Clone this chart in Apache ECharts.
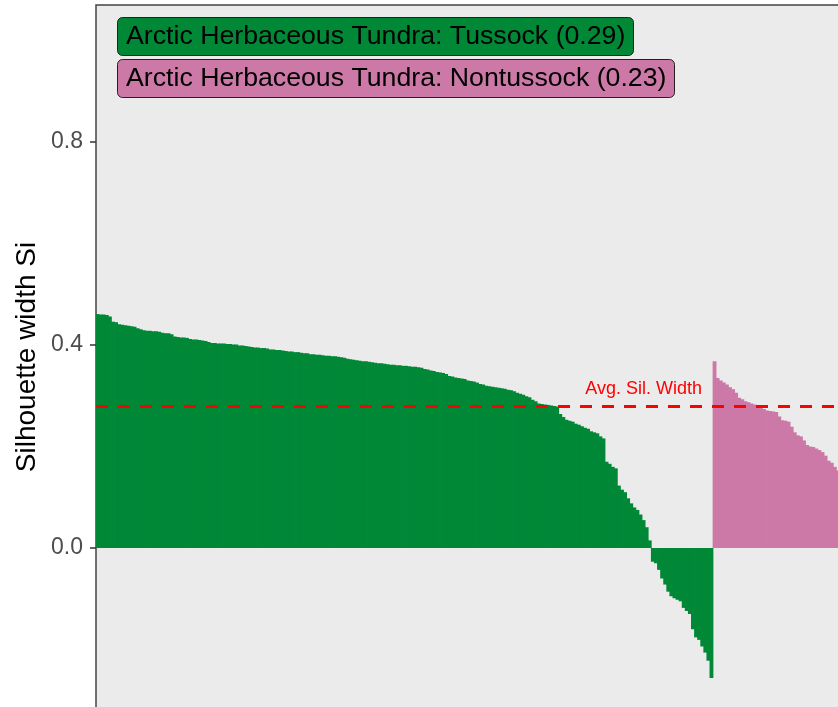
<!DOCTYPE html>
<html>
<head>
<meta charset="utf-8">
<script src="https://cdn.jsdelivr.net/npm/echarts@6/dist/echarts.min.js"></script>
<style>
html,body{margin:0;padding:0;background:#fff;}
#main{width:838px;height:707px;}
</style>
</head>
<body>
<div id="main"></div>
<script>
// Silhouette widths, cluster 1 (Tussock), sorted descending
const tussock = [
0.461,0.460,0.460,0.459,0.456,0.446,0.445,
0.441,0.440,0.439,0.438,0.437,0.436,
0.433,0.431,
0.429,0.428,0.428,0.427,0.427,0.426,
0.424,0.423,0.423,0.421,
0.417,0.416,0.415,0.415,0.414,
0.412,0.411,0.411,0.410,
0.409,0.408,0.406,
0.404,0.404,0.403,0.403,0.403,0.402,0.402,0.401,0.401,
0.399,0.399,0.398,0.397,
0.396,0.395,0.395,0.394,0.394,0.393,
0.391,0.391,0.390,0.390,0.389,
0.388,0.387,0.387,0.386,0.386,
0.385,0.384,0.384,
0.382,0.382,0.381,0.381,0.380,
0.379,0.379,0.378,0.378,
0.377,0.376,0.375,
0.373,0.372,0.371,0.370,
0.369,0.368,0.368,0.367,0.366,
0.365,0.364,0.364,0.363,0.362,
0.361,0.361,0.360,0.360,
0.359,0.359,0.358,
0.357,0.357,0.356,0.355,
0.353,0.352,
0.350,0.349,0.347,
0.346,0.345,0.343,
0.339,0.338,0.336,
0.335,0.334,0.333,
0.330,0.329,0.328,0.326,
0.323,0.322,0.320,
0.319,0.318,0.317,
0.316,0.315,0.314,
0.312,0.311,0.309,
0.306,0.304,0.302,
0.299,0.297,
0.292,0.289,
0.285,0.284,
0.283,0.282,0.281,0.280,0.279,
0.264,0.258,
0.253,0.251,0.249,
0.245,0.243,0.240,0.237,0.235,
0.230,0.228,0.226,
0.220,0.216,
0.170,0.166,
0.160,0.157,
0.123,
0.115,0.110,
0.098,0.088,
0.080,0.075,0.066,
0.055,0.041,
0.015,
-0.027,-0.030,
-0.043,
-0.060,-0.072,
-0.086,
-0.095,-0.099,
-0.102,-0.105,
-0.118,-0.124,
-0.130,
-0.160,
-0.176,-0.181,
-0.194,
-0.206,
-0.222,
-0.256
];
// Silhouette widths, cluster 2 (Nontussock), visible part, sorted descending
const nontussock = [
0.368,0.335,0.330,0.326,0.322,0.317,0.313,0.306,0.296,0.293,
0.289,0.287,0.285,0.283,0.281,0.278,0.274,0.271,0.270,0.269,
0.268,0.259,0.252,0.251,0.249,0.239,0.228,0.222,0.220,0.212,
0.203,0.200,0.199,0.196,0.193,0.189,0.182,0.172,0.168,0.160,
0.153
];
const clusterNames = ['Arctic Herbaceous Tundra: Tussock (0.29)', 'Arctic Herbaceous Tundra: Nontussock (0.23)'];
const avgSilWidth = 0.282;
const yTicks = [0, 0.4, 0.8];

const total = tussock.length + nontussock.length;
const categories = [];
for (let i = 0; i < total; i++) categories.push(String(i + 1));
const greenData = tussock.concat(new Array(nontussock.length).fill(null));
const pinkData = new Array(tussock.length).fill(null).concat(nontussock);

const GREEN = '#008837', PINK = '#CC79A7';
const yMin = -0.4, yMax = 1.07, ppu = 507.5;
const barPx = 617 / tussock.length;

const chart = echarts.init(document.getElementById('main'));
const font = '"Liberation Sans", Arial, sans-serif';

chart.setOption({
  animation: false,
  backgroundColor: '#ffffff',
  grid: {
    left: 96, top: 5,
    width: barPx * total,
    height: (yMax - yMin) * ppu,
    outerBoundsMode: 'none',
    containLabel: false,
    show: true,
    backgroundColor: '#EBEBEB',
    borderColor: '#444444',
    borderWidth: 1.5
  },
  title: [
    {
      text: clusterNames[0], left: 117, top: 17,
      backgroundColor: GREEN, borderColor: '#222', borderWidth: 1, borderRadius: 5,
      padding: [6, 8, 5, 9],
      textStyle: {fontSize: 26.7, fontWeight: 'normal', color: '#000', fontFamily: font, lineHeight: 28}
    },
    {
      text: clusterNames[1], left: 117, top: 59,
      backgroundColor: PINK, borderColor: '#222', borderWidth: 1, borderRadius: 5,
      padding: [6, 8, 5, 9],
      textStyle: {fontSize: 26.7, fontWeight: 'normal', color: '#000', fontFamily: font, lineHeight: 28}
    }
  ],
  xAxis: {
    type: 'category', data: categories, show: false,
    boundaryGap: true
  },
  yAxis: {
    type: 'value', min: yMin, max: yMax, interval: 0.4,
    axisLine: {show: false},
    splitLine: {show: false},
    axisTick: {show: true, length: 6, customValues: yTicks, lineStyle: {color: '#333', width: 1.5}},
    axisLabel: {
      customValues: yTicks, margin: 13, color: '#4D4D4D', fontSize: 23, fontFamily: font,
      formatter: v => v.toFixed(1)
    }
  },
  series: [
    {
      name: clusterNames[0], type: 'bar', data: greenData,
      barWidth: '125%', barGap: '-100%', barCategoryGap: '0%',
      itemStyle: {color: GREEN},
      markLine: {
        silent: true, symbol: ['none', 'none'], z: 10,
        label: {show: false},
        lineStyle: {color: '#FF0000', width: 3, type: [12, 10]},
        data: [{yAxis: avgSilWidth}]
      }
    },
    {
      name: clusterNames[1], type: 'bar', data: pinkData,
      barWidth: '125%', barGap: '-100%', barCategoryGap: '0%',
      itemStyle: {color: PINK}
    }
  ]
});

const yAvgPx = chart.convertToPixel({yAxisIndex: 0}, avgSilWidth);
chart.setOption({
  graphic: [
    {
      type: 'text', id: 'ytitle', x: 27, y: 357, rotation: Math.PI / 2,
      style: {text: 'Silhouette width Si', font: '28px ' + font, fill: '#000', textAlign: 'center', textVerticalAlign: 'middle'}
    },
    {
      type: 'text', id: 'avglab', x: 702, y: yAvgPx - 7, z: 20,
      style: {text: 'Avg. Sil. Width', font: '18px ' + font, fill: '#FF0000', textAlign: 'right', textVerticalAlign: 'bottom'}
    }
  ]
});
</script>
</body>
</html>
